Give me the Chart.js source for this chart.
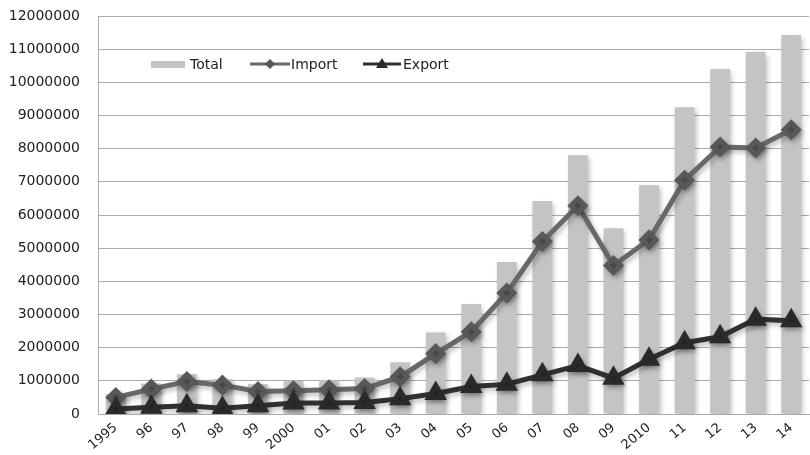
<!DOCTYPE html>
<html>
<head>
<meta charset="utf-8">
<script src="https://cdn.jsdelivr.net/npm/chart.js@4"></script>
<style>
  html, body { margin: 0; padding: 0; background: #fff; overflow: hidden; }
  #wrap { position: absolute; left: 0; top: 0; width: 822px; height: 455px; }
</style>
</head>
<body>
<div id="wrap"><canvas id="chart"></canvas></div>
<script>
const years = ['1995', '96', '97', '98', '99', '2000', '01', '02', '03', '04',
               '05', '06', '07', '08', '09', '2010', '11', '12', '13', '14'];
const totalValues = [600000, 920000, 1200000, 1050000, 900000, 1000000, 1020000, 1100000, 1560000, 2460000,
                     3320000, 4580000, 6420000, 7800000, 5600000, 6900000, 9250000, 10400000, 10920000, 11430000];
const importValues = [500000, 750000, 980000, 870000, 680000, 700000, 730000, 770000, 1120000, 1820000,
                      2480000, 3650000, 5200000, 6280000, 4480000, 5250000, 7050000, 8050000, 8020000, 8570000];
const exportValues = [150000, 200000, 250000, 170000, 250000, 330000, 330000, 350000, 460000, 620000,
                      830000, 900000, 1180000, 1460000, 1080000, 1650000, 2150000, 2330000, 2860000, 2810000];

const FONT = 'DejaVu Sans';

// soft drop shadow under bars and lines
const shadowPlugin = {
    id: 'shadow',
    beforeDatasetDraw(chart) {
        const ctx = chart.ctx;
        ctx.save();
        ctx.shadowColor = 'rgba(0,0,0,0.25)';
        ctx.shadowBlur = 5;
        ctx.shadowOffsetX = 2;
        ctx.shadowOffsetY = 3;
    },
    afterDatasetDraw(chart) {
        chart.ctx.restore();
    }
};

// legend drawn inside the plot area
const insideLegend = {
    id: 'insideLegend',
    afterDraw(chart) {
        const ctx = chart.ctx;
        const area = chart.chartArea;
        const y = area.top + 48;
        const byLabel = name => chart.data.datasets.find(d => d.label === name);
        const total = byLabel('Total'), imp = byLabel('Import'), exp = byLabel('Export');
        ctx.save();
        ctx.font = '14px "' + FONT + '"';
        ctx.textBaseline = 'middle';

        // Total
        let x = area.left + 53;
        ctx.fillStyle = total.backgroundColor;
        ctx.fillRect(x, y - 3, 34, 7);
        ctx.fillStyle = '#222';
        ctx.fillText(total.label, x + 39, y + 1);

        // Import
        x = area.left + 152;
        ctx.strokeStyle = imp.borderColor;
        ctx.lineWidth = 3;
        ctx.beginPath(); ctx.moveTo(x, y); ctx.lineTo(x + 40, y); ctx.stroke();
        ctx.fillStyle = imp.pointBackgroundColor;
        ctx.beginPath();
        ctx.moveTo(x + 20, y - 5); ctx.lineTo(x + 25, y); ctx.lineTo(x + 20, y + 5); ctx.lineTo(x + 15, y);
        ctx.closePath(); ctx.fill();
        ctx.fillStyle = '#222';
        ctx.fillText(imp.label, x + 41, y + 1);

        // Export
        x = area.left + 265;
        ctx.strokeStyle = exp.borderColor;
        ctx.beginPath(); ctx.moveTo(x, y); ctx.lineTo(x + 38, y); ctx.stroke();
        ctx.fillStyle = exp.pointBackgroundColor;
        ctx.beginPath();
        ctx.moveTo(x + 19, y - 6); ctx.lineTo(x + 25, y + 4); ctx.lineTo(x + 13, y + 4);
        ctx.closePath(); ctx.fill();
        ctx.fillStyle = '#222';
        ctx.fillText(exp.label, x + 40, y + 1);
        ctx.restore();
    }
};

new Chart(document.getElementById('chart'), {
    type: 'bar',
    data: {
        labels: years,
        datasets: [
            {
                type: 'line',
                label: 'Export',
                data: exportValues,
                borderColor: '#303030',
                borderWidth: 5,
                pointStyle: 'triangle',
                pointRadius: 8,
                pointBackgroundColor: '#2a2a2a',
                pointBorderColor: '#2a2a2a',
                tension: 0,
                order: 1
            },
            {
                type: 'line',
                label: 'Import',
                data: importValues,
                borderColor: '#686868',
                borderWidth: 5,
                pointStyle: 'rectRot',
                pointRadius: 7,
                pointBackgroundColor: '#585858',
                pointBorderColor: '#585858',
                tension: 0,
                order: 2
            },
            {
                label: 'Total',
                data: totalValues,
                backgroundColor: '#c4c4c4',
                borderWidth: 0,
                categoryPercentage: 0.56,
                barPercentage: 1,
                order: 3
            }
        ]
    },
    options: {
        responsive: true,
        maintainAspectRatio: false,
        animation: false,
        layout: { padding: { top: 16, right: 6, bottom: 0, left: 0 } },
        scales: {
            x: {
                grid: { display: false, drawTicks: false },
                border: { color: '#a8a8a8', width: 1 },
                ticks: {
                    color: '#222',
                    font: { family: FONT, size: 13 },
                    minRotation: 40,
                    maxRotation: 40,
                    padding: 6,
                    autoSkip: false
                },
                afterFit(scale) { scale.height = 41; }
            },
            y: {
                min: 0,
                max: 12000000,
                grid: { color: '#ababab', drawTicks: true, tickLength: 17, tickColor: 'rgba(0,0,0,0)' },
                border: { color: '#ababab', width: 1 },
                ticks: {
                    stepSize: 1000000,
                    color: '#222',
                    font: { family: FONT, size: 14 },
                    padding: 1,
                    callback: v => String(v)
                },
                afterFit(scale) { scale.width = 98; }
            }
        },
        plugins: {
            legend: { display: false },
            tooltip: { enabled: false }
        }
    },
    plugins: [shadowPlugin, insideLegend]
});
</script>
</body>
</html>
